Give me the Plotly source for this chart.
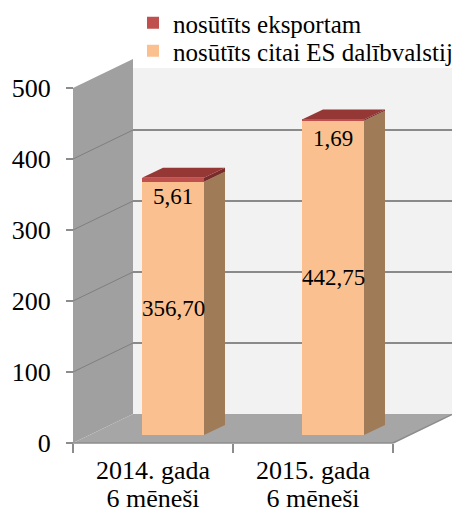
import plotly.graph_objects as go

# ---------------- data ----------------
categories = ["2014. gada<br>6 mēneši", "2015. gada<br>6 mēneši"]
es_values = [356.70, 442.75]        # nosūtīts citai ES dalībvalstij
export_values = [5.61, 1.69]        # nosūtīts eksportam
es_labels = ["356,70", "442,75"]
export_labels = ["5,61", "1,69"]
y_ticks = [0, 100, 200, 300, 400, 500]
series_names = ["nosūtīts citai ES dalībvalstij", "nosūtīts eksportam"]

# ---------------- geometry / style ----------------
W, H = 452, 516
FONT = "Liberation Serif, Times New Roman, serif"
X0PX, CATPX = 73, 160.0       # front plane: left edge px, px per category
Y0PX, UNITPX = 443, 0.71      # front plane: zero px, px per unit
xa = -0.5 - X0PX / CATPX
xb = xa + W / CATPX
ya = -(H - Y0PX) / UNITPX
yb = ya + H / UNITPX
DX = 60 / CATPX               # wall depth
DY = 29 / UNITPX
BSX = 20 / CATPX              # bar plane shift
BSY = 8 / UNITPX
BAR_W = 62 / CATPX
BDX = 21 / CATPX              # bar depth
BDY = 10 / UNITPX
TOPV = max(y_ticks)
BACK_TOP = (Y0PX - 68) / UNITPX   # where legend cover starts

C_LEFT = "#A0A0A0"
C_FLOOR = "#A6A6A6"
C_BACK = "#F2F2F2"
C_GRID = "#8A8A8A"
C_ORANGE = "#FAC090"
C_ORANGE_SIDE = "#9F7B58"
C_RED = "#C0504D"
C_RED_TOP = "#953735"
C_RED_SIDE = "#7A2C2A"


def path(pts):
    return "M " + " L ".join(f"{x},{y}" for x, y in pts) + " Z"


shapes = []
# back wall
shapes.append(dict(type="path", xref="x", yref="y", layer="below", line=dict(width=0),
                   fillcolor=C_BACK,
                   path=path([(-0.5 + DX, DY), (xb, DY), (xb, BACK_TOP), (-0.5 + DX, BACK_TOP)])))
# left wall
shapes.append(dict(type="path", xref="x", yref="y", layer="below", line=dict(width=0),
                   fillcolor=C_LEFT,
                   path=path([(-0.5, 0), (-0.5, TOPV), (-0.5 + DX, TOPV + DY), (-0.5 + DX, DY)])))
# floor
shapes.append(dict(type="path", xref="x", yref="y", layer="below", line=dict(width=0),
                   fillcolor=C_FLOOR,
                   path=path([(-0.5, 0), (1.5, 0), (1.5 + DX, DY), (-0.5 + DX, DY)])))
# gridlines
for v in y_ticks[1:]:
    if v + DY <= BACK_TOP:
        shapes.append(dict(type="line", xref="x", yref="y", layer="below",
                           x0=-0.5 + DX, x1=xb, y0=v + DY, y1=v + DY,
                           line=dict(color=C_GRID, width=2)))
    if v < TOPV:
        shapes.append(dict(type="line", xref="x", yref="y", layer="below",
                           x0=-0.5, x1=-0.5 + DX, y0=v, y1=v + DY,
                           line=dict(color="#7F7F7F", width=1)))
# floor right edge & front edge
shapes.append(dict(type="line", xref="x", yref="y", layer="below",
                   x0=1.5, x1=1.5 + DX, y0=0, y1=DY, line=dict(color="#8C8C8C", width=1.5)))
shapes.append(dict(type="line", xref="x", yref="y", layer="below",
                   x0=-0.5, x1=1.5, y0=0, y1=0, line=dict(color="#8C8C8C", width=1.5)))

# bar side / top faces (bar plane axes)
for i in range(len(categories)):
    x1 = i + BAR_W / 2
    x0 = i - BAR_W / 2
    lo = es_values[i]
    tot = es_values[i] + export_values[i]
    shapes.append(dict(type="path", xref="x2", yref="y2", layer="below", line=dict(width=0),
                       fillcolor=C_ORANGE_SIDE,
                       path=path([(x1, 0), (x1, lo), (x1 + BDX, lo + BDY), (x1 + BDX, BDY)])))
    shapes.append(dict(type="path", xref="x2", yref="y2", layer="below", line=dict(width=0),
                       fillcolor=C_RED_SIDE,
                       path=path([(x1, lo), (x1, tot), (x1 + BDX, tot + BDY), (x1 + BDX, lo + BDY)])))
    shapes.append(dict(type="path", xref="x2", yref="y2", layer="below", line=dict(width=0),
                       fillcolor=C_RED_TOP,
                       path=path([(x0, tot), (x1, tot), (x1 + BDX, tot + BDY), (x0 + BDX, tot + BDY)])))

fig = go.Figure()
fig.add_trace(go.Bar(x=categories, y=es_values, name=series_names[0], marker_color=C_ORANGE,
                     marker_line_width=0, width=BAR_W, xaxis="x2", yaxis="y2",
                     legend="legend2", hoverinfo="y"))
fig.add_trace(go.Bar(x=categories, y=export_values, name=series_names[1], marker_color=C_RED,
                     marker_line_width=0, width=BAR_W, xaxis="x2", yaxis="y2",
                     legend="legend", hoverinfo="y"))
# empty helper trace so the second-line category axis is rendered
fig.add_trace(go.Scatter(x=[None], y=[None], xaxis="x3", yaxis="y", showlegend=False,
                         hoverinfo="skip", mode="markers"))

annotations = []
for i in range(len(categories)):
    annotations.append(dict(xref="x2", yref="y2", x=i, y=es_values[i] / 2, text=es_labels[i],
                            showarrow=False, font=dict(family=FONT, size=23, color="black")))
    annotations.append(dict(xref="x2", yref="y2", x=i, y=es_values[i] + export_values[i],
                            yshift=-19, text=export_labels[i], showarrow=False,
                            font=dict(family=FONT, size=23, color="black")))

line1 = [c.split("<br>")[0] for c in categories]
line2 = [c.split("<br>")[1] for c in categories]

axis_font = dict(family=FONT, size=26, color="black")
legend_font = dict(family=FONT, size=25, color="black")
fig.update_layout(
    width=W, height=H,
    margin=dict(l=0, r=0, t=0, b=0, autoexpand=False),
    paper_bgcolor="white", plot_bgcolor="white",
    barmode="stack", bargap=0,
    showlegend=True,
    shapes=shapes,
    annotations=annotations,
    xaxis=dict(range=[xa, xb], type="linear", anchor="free", position=(H - Y0PX) / H,
               tickmode="array", tickvals=[0, 1], ticktext=line1, ticks="",
               ticklabelstandoff=9,
               tickfont=axis_font, showgrid=False, zeroline=False, showline=False,
               minor=dict(tickmode="array", tickvals=[-0.5, 0.5, 1.5], ticks="outside",
                          ticklen=9, tickcolor="#8C8C8C", tickwidth=1.5, showgrid=False),
               automargin=False, fixedrange=True),
    xaxis3=dict(range=[xa, xb], type="linear", anchor="free", overlaying="x",
                position=(H - Y0PX) / H, side="bottom",
                tickmode="array", tickvals=[0, 1], ticktext=line2, ticks="",
                ticklabelstandoff=37,
                tickfont=axis_font, showgrid=False, zeroline=False, showline=False,
                automargin=False, fixedrange=True),
    yaxis=dict(range=[ya, yb], anchor="free", position=X0PX / W,
               tickmode="array", tickvals=y_ticks, ticks="outside", ticklen=7,
               tickcolor="#8C8C8C", tickwidth=1.5, tickfont=axis_font,
               ticklabelstandoff=10,
               showgrid=False, zeroline=False, showline=False, automargin=False, fixedrange=True),
    xaxis2=dict(range=[xa - BSX, xb - BSX], type="category", overlaying="x", visible=False,
                fixedrange=True),
    yaxis2=dict(range=[ya - BSY, yb - BSY], overlaying="y", visible=False, fixedrange=True),
    legend=dict(x=133 / W, y=1.0, xanchor="left", yanchor="top", bgcolor="rgba(0,0,0,0)",
                font=legend_font),
    legend2=dict(x=133 / W, y=1 - 28 / H, xanchor="left", yanchor="top", bgcolor="rgba(0,0,0,0)",
                 font=legend_font),
)

fig.write_html("out.html", config={"displayModeBar": False},
               post_script="document.body.style.margin='0px';")
